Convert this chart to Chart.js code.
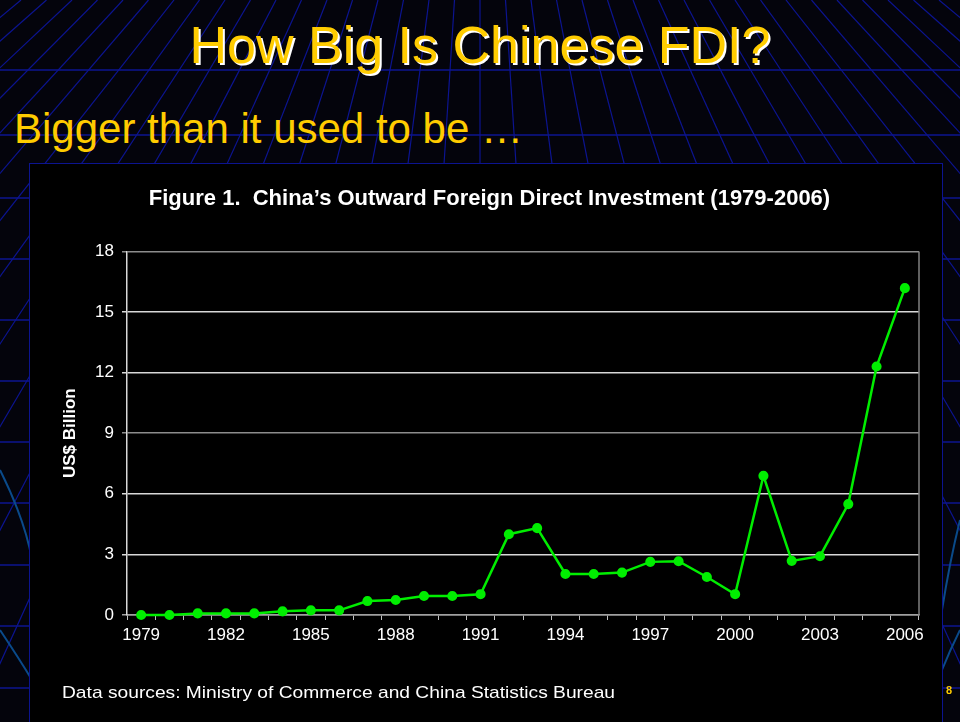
<!DOCTYPE html>
<html>
<head>
<meta charset="utf-8">
<script src="https://cdn.jsdelivr.net/npm/chart.js@4/dist/chart.umd.min.js"></script>
<style>
  html, body { margin:0; padding:0; }
  body { width:960px; height:722px; background:#04040c; position:relative; overflow:hidden; font-family:"Liberation Sans", Arial, sans-serif; }
  #bg { position:absolute; left:0; top:0; }
  #title { position:absolute; left:0; width:960px; top:13px; text-align:center; font-size:52px; color:#ffcc00; text-shadow:2px 2px 0 #ffffff; line-height:64px; white-space:nowrap; }
  #subtitle { position:absolute; left:14px; top:104px; font-size:42px; color:#ffcc00; line-height:50px; white-space:nowrap; }
  #box { position:absolute; left:29px; top:163px; width:912px; height:559px; background:#000; border:1.5px solid #0c1490; border-bottom:none; }
  #c { position:absolute; left:0; top:1px; }
  #footer { position:absolute; left:62px; top:683px; font-size:17px; color:#fff; white-space:nowrap; transform:scaleX(1.13); transform-origin:left center; }
  #pnum { position:absolute; left:946px; top:684px; font-size:11px; color:#ffcc00; font-weight:bold; }
</style>
</head>
<body>
<svg id="bg" width="960" height="722"></svg>
<div id="title">How Big Is Chinese FDI?</div>
<div id="subtitle">Bigger than it used to be …</div>
<div id="box"><canvas id="c" width="913" height="557"></canvas></div>
<div id="footer">Data sources: Ministry of Commerce and China Statistics Bureau</div>
<div id="pnum">8</div>
<script>
// ---- data ----
const years = ["1979","1980","1981","1982","1983","1984","1985","1986","1987","1988","1989","1990","1991","1992","1993","1994","1995","1996","1997","1998","1999","2000","2001","2002","2003","2004","2005","2006"];
const fdiValues = [0.0, 0.0, 0.08, 0.08, 0.08, 0.18, 0.23, 0.23, 0.69, 0.74, 0.94, 0.94, 1.03, 4.0, 4.3, 2.03, 2.03, 2.1, 2.63, 2.66, 1.88, 1.03, 6.89, 2.68, 2.91, 5.49, 12.3, 16.18];
const yTicks = [0, 3, 6, 9, 12, 15, 18];
const chartTitle = "Figure 1.  China\u2019s Outward Foreign Direct Investment (1979-2006)";
const yTitle = "US$ Billion";

// ---- decorative slide background ----
(function(){
  const svg = document.getElementById('bg');
  const ns = 'http://www.w3.org/2000/svg';
  const col = '#0c1490';
  const add = (d, c, w) => {
    const p = document.createElementNS(ns, 'path');
    p.setAttribute('d', d); p.setAttribute('stroke', c); p.setAttribute('stroke-width', w); p.setAttribute('fill', 'none');
    svg.appendChild(p);
  };
  const vx = 480, vy = -400;
  for (let k = -40; k <= 40; k++) {
    const x0 = 480 + k * 25.5;
    const x1 = vx + (x0 - vx) * (722 - vy) / (0 - vy);
    const bend = k * Math.abs(k) * 0.06;
    add(`M${x0},0 Q${(x0 + x1) / 2 + bend},361 ${x1 + bend * 2},722`, col, 1.2);
  }
  [70, 135, 198, 259, 320, 381, 442, 503, 565, 626, 688].forEach(y => add(`M0,${y} L960,${y}`, col, 1.3));
  // lighter curved lines near the lower corners
  add('M0,470 Q25,520 32,560', '#0a4a8a', 2);
  add('M0,630 Q20,660 32,680', '#0a4a8a', 2);
  add('M960,520 Q950,560 942,610', '#0a4a8a', 2);
  add('M960,630 Q950,650 942,670', '#0a4a8a', 2);
})();

// ---- chart ----
const rightBorder = {
  id: 'rightBorder',
  afterDraw(chart) {
    const a = chart.chartArea, ctx = chart.ctx;
    ctx.save();
    ctx.strokeStyle = '#808080'; ctx.lineWidth = 1.5;
    ctx.beginPath(); ctx.moveTo(a.right, a.top); ctx.lineTo(a.right, a.bottom); ctx.stroke();
    ctx.restore();
  }
};

const FONT = '"Liberation Sans", Arial, sans-serif';

new Chart(document.getElementById('c'), {
  type: 'line',
  data: {
    labels: years,
    datasets: [{
      data: fdiValues,
      borderColor: '#00ee00',
      backgroundColor: '#00ee00',
      borderWidth: 2.5,
      pointRadius: 3.8,
      pointHoverRadius: 3.8,
      pointBackgroundColor: '#00ee00',
      pointBorderColor: '#00ee00',
      tension: 0,
      clip: false
    }]
  },
  options: {
    responsive: false,
    animation: false,
    layout: { padding: { left: 30, right: 24, top: 0, bottom: 77 } },
    plugins: {
      legend: { display: false },
      tooltip: { enabled: false },
      title: {
        display: true,
        text: chartTitle,
        color: '#ffffff',
        font: { family: FONT, size: 22, weight: 'bold' },
        padding: { top: 21, bottom: 39 }
      }
    },
    scales: {
      x: {
        type: 'category',
        offset: true,
        grid: { display: true, drawOnChartArea: false, drawTicks: true, tickLength: 5, color: '#c0c0c0', offset: true },
        border: { display: true, color: '#a0a0a0', width: 1.5 },
        ticks: {
          autoSkip: false, maxRotation: 0, color: '#ffffff', padding: 5,
          font: { family: FONT, size: 17 },
          callback: function(v, i) { return i % 3 === 0 ? years[i] : ''; }
        },
        afterFit: function(s) { s.height = 30; }
      },
      y: {
        min: 0, max: 18,
        afterBuildTicks: function(s) { s.ticks = yTicks.map(v => ({ value: v })); },
        grid: {
          drawTicks: true, tickLength: 5,
          color: function(ctx) {
            const v = ctx.tick && ctx.tick.value;
            return (v === 18 || v === 9) ? '#8c8c8c' : (v === 0 ? '#a0a0a0' : '#d8d8d8');
          },
          lineWidth: 1.5
        },
        border: { display: true, color: '#d8d8d8', width: 1.5 },
        ticks: { color: '#ffffff', padding: 8, font: { family: FONT, size: 17 } },
        title: {
          display: true, text: yTitle, color: '#ffffff',
          font: { family: FONT, size: 17, weight: 'bold' },
          padding: { top: 0, bottom: 0 }
        },
        afterFit: function(s) { s.width = 67; }
      }
    }
  },
  plugins: [rightBorder]
});
</script>
</body>
</html>
